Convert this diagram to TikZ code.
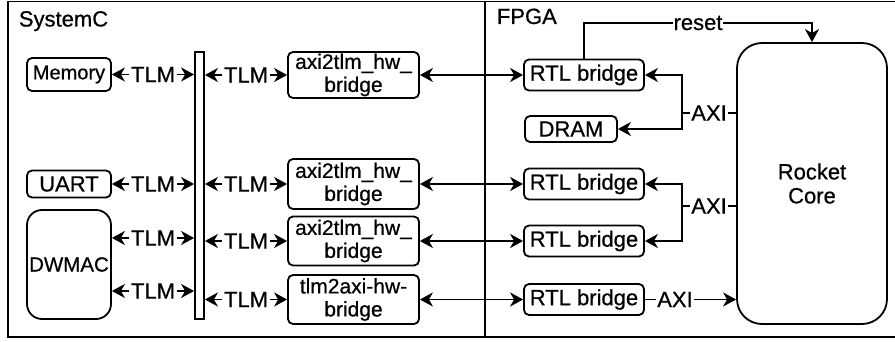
\documentclass[tikz,border=0pt]{standalone}
\usepackage{fontspec}
\setmainfont{Liberation Sans}[FakeBold=0.6]
\usetikzlibrary{arrows.meta}
\begin{document}
\begin{tikzpicture}[x=1pt,y=-1pt, line width=1.8pt,
  >={Stealth[length=13pt,width=14pt,inset=4pt]},
  every node/.style={font=\fontsize{22}{24}\selectfont},
  box/.style={draw, rounded corners=5pt, inner sep=0pt, align=center},
  brg/.style={box, minimum width=131pt, font=\fontsize{21}{23}\selectfont},
  rtl/.style={box, minimum width=120pt, minimum height=31pt},
  lab/.style={fill=white, inner ysep=0.5pt, inner xsep=1pt},
  tlm/.style={fill=white, inner ysep=0.5pt, inner xsep=2pt},
  title/.style={anchor=base west, inner sep=0pt}]
\useasboundingbox (0,0) rectangle (895,342);
% frame
\draw (895,1.5) -- (8,1.5) -- (8,337) -- (895,337);
\draw (485,1.5) -- (485,337);
\node[title] (sc) at (18,26.5) {SystemC};
\node[title] (fp) at (496,24) {FPGA};
% SystemC side
\node[box, minimum width=84pt, minimum height=33pt, font=\fontsize{20}{22}\selectfont] (mem) at (69,74.5) {Memory};
\node[box, minimum width=84pt, minimum height=27pt] (uart) at (69,184) {UART};
\node[box, rounded corners=15pt, minimum width=84pt, minimum height=109pt, font=\fontsize{20.5}{22}\selectfont] (dwmac) at (69,264.5) {DWMAC};
\node[draw, minimum width=9pt, minimum height=267pt, inner sep=0pt] (bus) at (199.5,185.5) {};
\node[brg, minimum height=46pt] (b1) at (353.5,75) {axi2tlm\_hw\_\\bridge};
\node[brg, minimum height=50pt] (b2) at (353.5,184) {axi2tlm\_hw\_\\bridge};
\node[brg, minimum height=49pt] (b3) at (353.5,241) {axi2tlm\_hw\_\\bridge};
\node[brg, minimum height=49pt] (b4) at (353.5,299.5) {tlm2axi-hw-\\bridge};
% FPGA side
\node[rtl] (r1) at (584,75) {RTL bridge};
\node[box, minimum width=92pt, minimum height=26pt] (dram) at (571,129) {DRAM};
\node[rtl] (r2) at (584,184) {RTL bridge};
\node[rtl] (r3) at (584,241) {RTL bridge};
\node[rtl] (r4) at (584,299.5) {RTL bridge};
\node[box, rounded corners=25pt, minimum width=150pt, minimum height=281pt] (rocket) at (812,183.5) {Rocket\\Core};
% TLM connectors
\coordinate (y1) at (0,238);
\coordinate (y2) at (0,291);
\draw[<->] (mem.east) -- node[tlm]{TLM} (mem.east -| bus.west);
\draw[<->] (uart.east) -- node[tlm]{TLM} (uart.east -| bus.west);
\draw[<->] (dwmac.east |- y1) -- node[tlm]{TLM} (bus.west |- y1);
\draw[<->] (dwmac.east |- y2) -- node[tlm]{TLM} (bus.west |- y2);
\draw[<->] (bus.east |- b1.west) -- node[tlm]{TLM} (b1.west);
\draw[<->] (bus.east |- b2.west) -- node[tlm]{TLM} (b2.west);
\draw[<->] (bus.east |- b3.west) -- node[tlm]{TLM} (b3.west);
\draw[<->] (bus.east |- b4.west) -- node[tlm]{TLM} (b4.west);
% bridge to RTL
\draw[<->] (b1.east) -- (r1.west);
\draw[<->] (b2.east) -- (r2.west);
\draw[<->] (b3.east) -- (r3.west);
\draw[<->] (b4.east) -- (r4.west);
% AXI
\coordinate (j1) at (682,113);
\coordinate (j2) at (682,206);
\draw[->] (j1) |- (r1.east);
\draw[->] (j1) |- (dram.east);
\draw (j1) -- node[lab]{AXI} (j1 -| rocket.west);
\draw[->] (j2) |- (r2.east);
\draw[->] (j2) |- (r3.east);
\draw (j2) -- node[lab]{AXI} (j2 -| rocket.west);
\draw[->] (r4.east) -- node[lab, pos=0.33]{AXI} (r4.east -| rocket.west);
% reset
\coordinate (rk) at (584,23);
\draw[->] (r1.north) -- (rk) -| node[lab, pos=0.25]{reset} (rocket.north);
\end{tikzpicture}
\end{document}
